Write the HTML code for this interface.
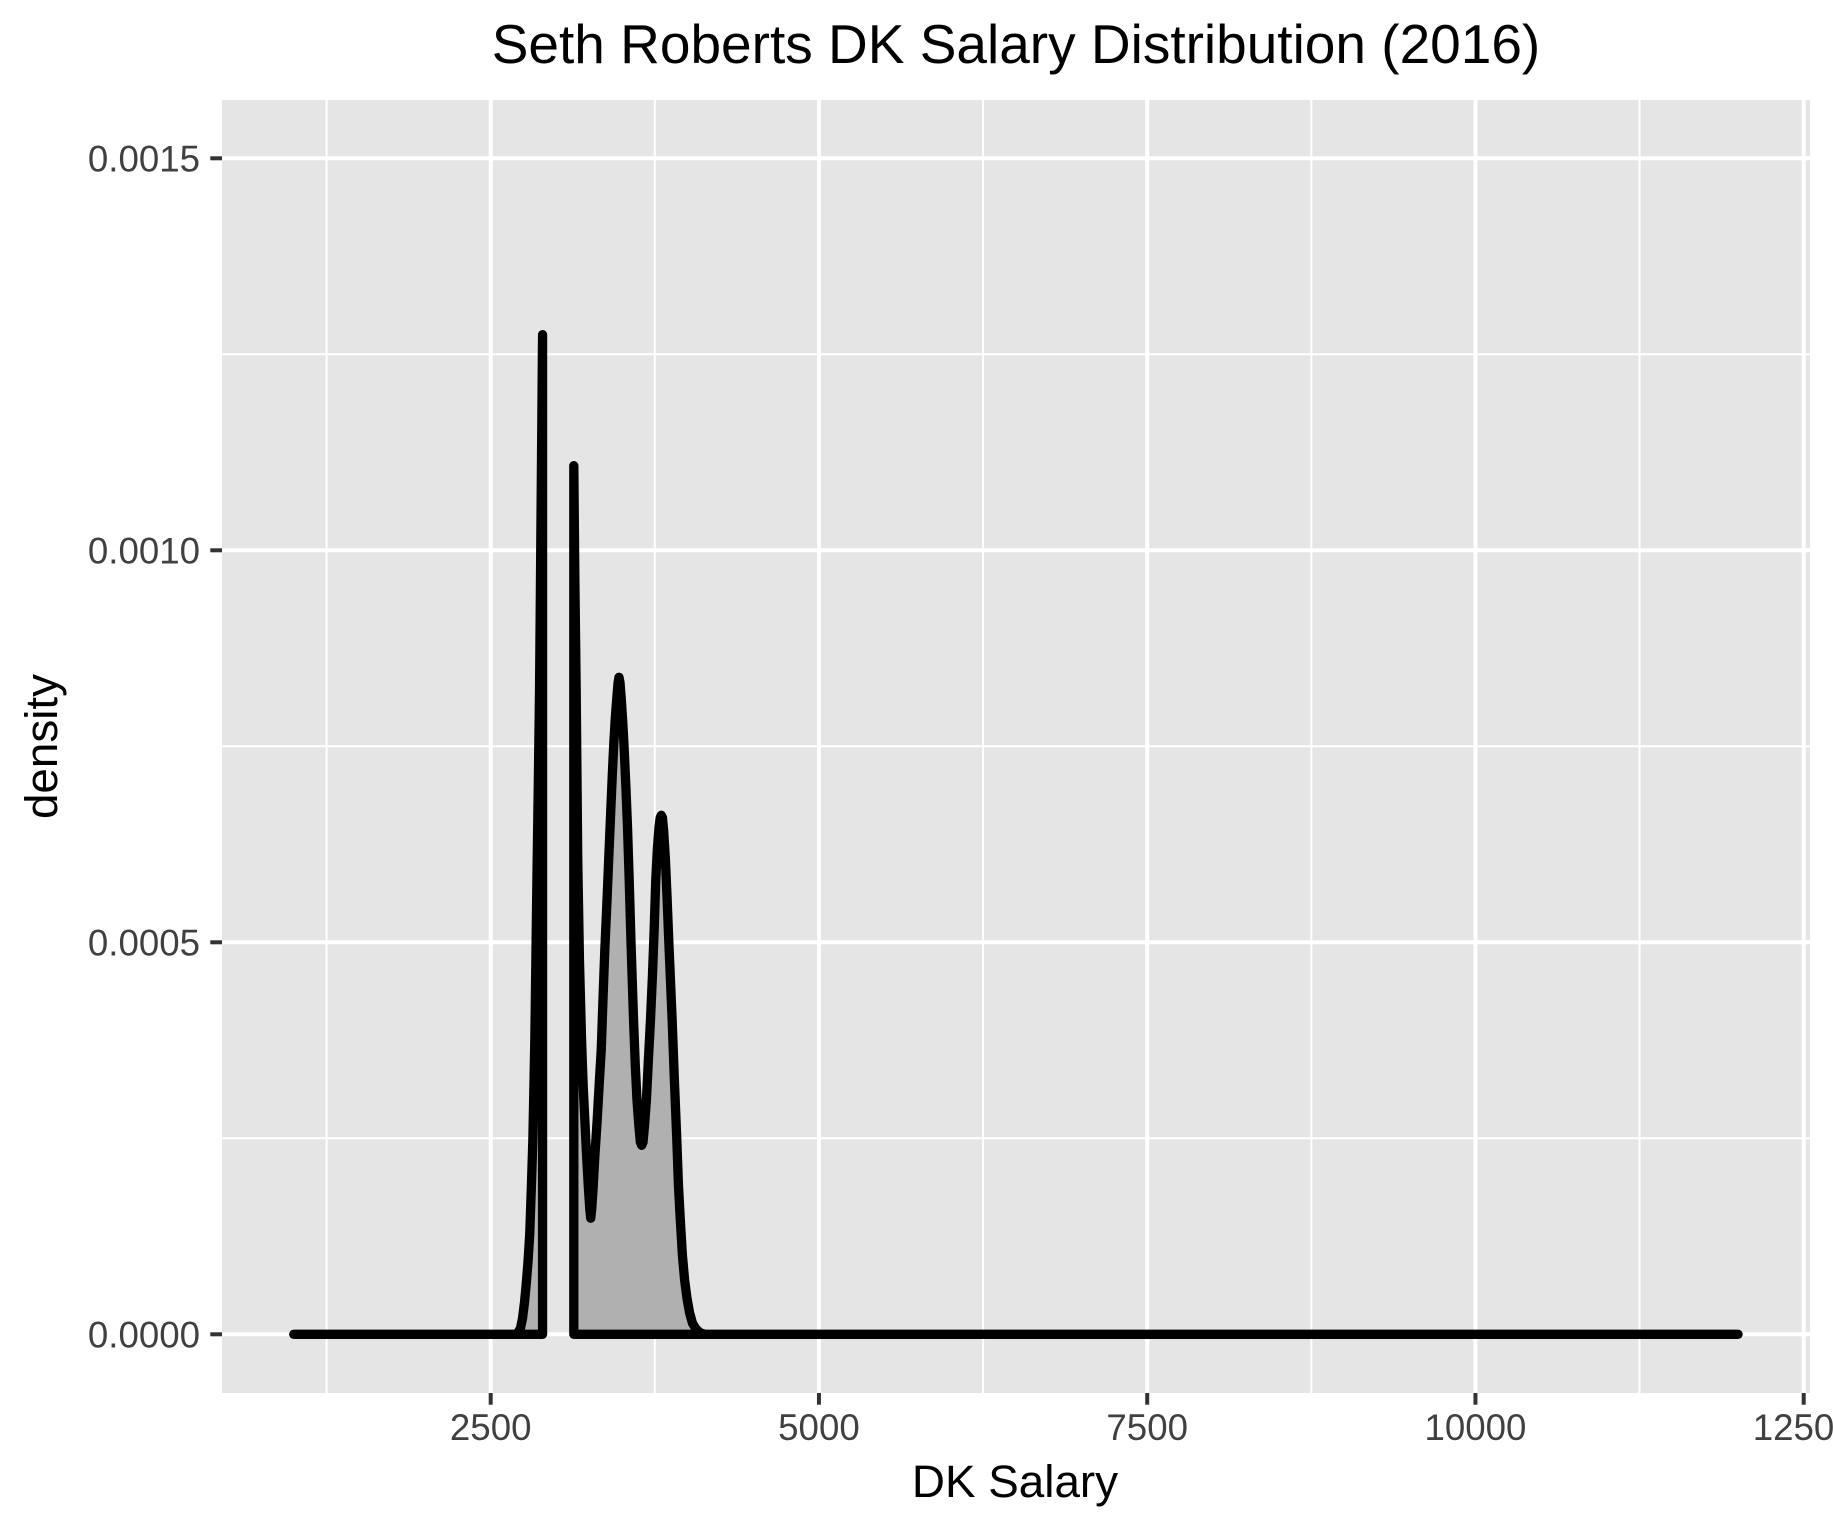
<!DOCTYPE html>
<html lang="en">
<head>
<meta charset="utf-8">
<title>Seth Roberts DK Salary Distribution (2016)</title>
<style>
  html, body { margin: 0; padding: 0; background: #ffffff; }
  body { width: 1833px; height: 1529px; overflow: hidden; }
  svg { display: block; font-family: "Liberation Sans", Arial, sans-serif; }
</style>
</head>
<body>
<svg id="chart" xmlns="http://www.w3.org/2000/svg" width="1833" height="1529" viewBox="0 0 1833 1529">
  <rect x="0" y="0" width="1833" height="1529" fill="#ffffff"/>
  <rect x="222" y="100" width="1588" height="1293" fill="#e5e5e5"/>
  <g id="grid"></g>
  <g id="marks"></g>
  <g id="axes"></g>
  <text x="1016" y="63" font-size="55" text-anchor="middle" fill="#000000">Seth Roberts DK Salary Distribution (2016)</text>
  <text x="1015" y="1497" font-size="45.8" text-anchor="middle" fill="#000000">DK Salary</text>
  <text transform="translate(57 746.5) rotate(-90)" font-size="45.8" text-anchor="middle" fill="#000000">density</text>
</svg>
<script>
const xMajorTicks = [2500, 5000, 7500, 10000, 12500];
const xMinorTicks = [1250, 3750, 6250, 8750, 11250];
const yMajorTicks = [0, 0.0005, 0.001, 0.0015];
const yMinorTicks = [0.00025, 0.00075, 0.00125];
const yTickLabels = ['0.0000', '0.0005', '0.0010', '0.0015'];
const xTickLabels = ['2500', '5000', '7500', '10000', '12500'];

const lowerSalaries = [1000, 2500, 2685, 2708, 2727, 2742, 2757, 2770, 2784, 2797, 2809, 2821, 2836, 2845, 2853, 2863, 2872, 2883, 2895, 2895];
const lowerDensities = [0, 0, 0, 0.000002, 0.000008, 0.00002, 0.00004, 0.000063, 0.000092, 0.000127, 0.000184, 0.000248, 0.000375, 0.00049, 0.000592, 0.000707, 0.000822, 0.001039, 0.001275, 0];

const upperSalaries = [3133, 3133, 3141, 3151, 3163, 3176, 3192, 3204, 3217, 3230, 3245, 3255, 3262, 3269, 3279, 3294, 3311, 3326, 3342, 3355, 3369, 3386, 3400, 3413, 3426, 3437, 3449, 3462, 3470, 3477, 3485, 3495, 3505, 3515, 3529, 3542, 3556, 3568, 3588, 3601, 3614, 3628, 3640, 3650, 3660, 3672, 3686, 3701, 3717, 3732, 3745, 3757, 3769, 3782, 3791, 3799, 3808, 3817, 3831, 3844, 3856, 3869, 3882, 3899, 3917, 3930, 3944, 3960, 3977, 3995, 4014, 4037, 4063, 4094, 4132, 12000];
const upperDensities = [0, 0.001108, 0.000962, 0.000822, 0.000605, 0.000477, 0.000375, 0.000318, 0.000273, 0.000229, 0.000184, 0.000159, 0.000148, 0.000159, 0.000184, 0.000229, 0.000273, 0.000318, 0.000363, 0.000426, 0.00049, 0.000554, 0.000611, 0.000662, 0.000713, 0.000752, 0.000786, 0.000815, 0.000831, 0.000838, 0.000831, 0.000809, 0.000783, 0.000752, 0.000701, 0.000647, 0.000573, 0.000503, 0.000401, 0.000344, 0.000299, 0.000267, 0.000245, 0.000241, 0.000245, 0.000267, 0.000299, 0.00035, 0.000401, 0.000458, 0.000516, 0.000579, 0.000618, 0.000647, 0.000659, 0.000662, 0.000659, 0.000643, 0.000605, 0.000554, 0.000503, 0.000452, 0.000401, 0.000324, 0.00025, 0.00019, 0.000146, 0.000101, 0.000069, 0.000046, 0.000028, 0.000014, 0.000007, 0.000002, 0, 0];

const SVG_NS = 'http://www.w3.org/2000/svg';
const panelLeft = 222, panelRight = 1810, panelTop = 100, panelBottom = 1393;

function xScale(v) { return 490.7 + (v - 2500) * 0.1313; }
function yScale(v) { return 1334.3 - v * 784000; }

function make(tag, attrs, parent) {
  const el = document.createElementNS(SVG_NS, tag);
  for (const k in attrs) el.setAttribute(k, attrs[k]);
  parent.appendChild(el);
  return el;
}

const grid = document.getElementById('grid');
const axes = document.getElementById('axes');
const marks = document.getElementById('marks');

yMinorTicks.forEach(function (v) {
  const el = make('line', { x1: panelLeft, x2: panelRight, y1: yScale(v), y2: yScale(v), stroke: '#ffffff', 'stroke-width': 2 }, grid);
  
  
});
xMinorTicks.forEach(function (v) {
  const el = make('line', { x1: xScale(v), x2: xScale(v), y1: panelTop, y2: panelBottom, stroke: '#ffffff', 'stroke-width': 2 }, grid);
  
  
});
yMajorTicks.forEach(function (v, i) {
  const y = yScale(v);
  const line = make('line', { x1: panelLeft, x2: panelRight, y1: y, y2: y, stroke: '#ffffff', 'stroke-width': 4 }, grid);
  
  
  const tick = make('line', { x1: panelLeft - 11.7, x2: panelLeft, y1: y, y2: y, stroke: '#333333', 'stroke-width': 4 }, axes);
  
  
  const label = make('text', { x: 200, y: y + 13, 'font-size': 36.67, 'text-anchor': 'end', fill: '#404040' }, axes);
  
  
  label.textContent = yTickLabels[i];
});
xMajorTicks.forEach(function (v, i) {
  const x = xScale(v);
  const line = make('line', { x1: x, x2: x, y1: panelTop, y2: panelBottom, stroke: '#ffffff', 'stroke-width': 4 }, grid);
  
  
  const tick = make('line', { x1: x, x2: x, y1: panelBottom, y2: panelBottom + 11.7, stroke: '#333333', 'stroke-width': 4 }, axes);
  
  
  const label = make('text', { x: x, y: 1440, 'font-size': 36.67, 'text-anchor': 'middle', fill: '#404040' }, axes);
  
  
  label.textContent = xTickLabels[i];
});

function polygonPoints(xs, ys) {
  return xs.map(function (x, i) { return xScale(x).toFixed(2) + ',' + yScale(ys[i]).toFixed(2); }).join(' ');
}

const lowerArea = make('polygon', { points: polygonPoints(lowerSalaries, lowerDensities), fill: '#b0b0b0', stroke: '#000000', 'stroke-width': 9.3, 'stroke-linejoin': 'round' }, marks);



const upperArea = make('polygon', { points: polygonPoints(upperSalaries, upperDensities), fill: '#b0b0b0', stroke: '#000000', 'stroke-width': 9.3, 'stroke-linejoin': 'round' }, marks);


</script>
</body>
</html>
